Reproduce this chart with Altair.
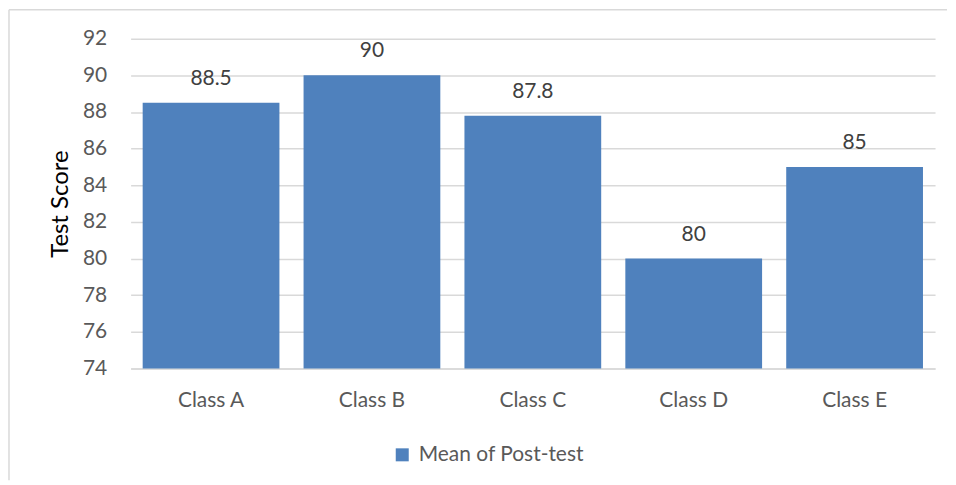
import altair as alt
import pandas as pd

classes = ["Class A", "Class B", "Class C", "Class D", "Class E"]
scores = [88.5, 90, 87.8, 80, 85]
series = ["Mean of Post-test"] * 5
y_ticks = [74, 76, 78, 80, 82, 84, 86, 88, 90, 92]

df = pd.DataFrame({"Class": classes, "Score": scores, "Series": series})
one = pd.DataFrame({"k": [0]})

FONT = "Lato"

x_enc = alt.X("Class:N", sort=classes, title=None,
              scale=alt.Scale(paddingInner=0.15, paddingOuter=0.075),
              axis=alt.Axis(labelAngle=0, labelFontSize=21, labelColor="#595959",
                            labelFont=FONT, ticks=False, tickSize=0, labelPadding=21,
                            domainColor="#d9d9d9", domainWidth=1.5))
y_axis = alt.Axis(values=y_ticks, labelFontSize=21,
                  labelColor="#595959", labelFont=FONT, ticks=False, tickSize=0,
                  labelPadding=24, labelOverlap=False, domain=False,
                  gridColor="#d9d9d9", gridWidth=1.5,
                  titleFontSize=24, titleFont=FONT,
                  titleColor="#000000", titleFontWeight="normal",
                  titlePadding=10)
y_enc = alt.Y("Score:Q", title="Test Score",
              scale=alt.Scale(domain=[74, 92], nice=False, zero=False),
              axis=y_axis)

base = alt.Chart(df)

bars = base.mark_bar(color="#4F81BD").encode(
    x=x_enc,
    y=y_enc,
    y2=alt.datum(74),
    color=alt.Color("Series:N", scale=alt.Scale(range=["#4F81BD"]),
                    legend=alt.Legend(title=None, orient="none", legendX=262,
                                      legendY=407, symbolType="square",
                                      symbolSize=170, symbolStrokeWidth=0,
                                      symbolFillColor="#4F81BD", symbolOpacity=1,
                                      labelFontSize=21, labelFont=FONT, labelLimit=0,
                                      labelOffset=6,
                                      labelColor="#595959", direction="horizontal")),
)

labels = base.mark_text(baseline="middle", dy=-24, fontSize=21, font=FONT,
                        color="#404040").encode(
    x=x_enc,
    y=y_enc,
    text=alt.Text("Score:Q"),
)

top_border = alt.Chart(one).mark_rule(color="#d9d9d9", strokeWidth=1.5).encode(
    x=alt.value(-122), x2=alt.value(819), y=alt.value(-29))
left_border = alt.Chart(one).mark_rule(color="#d9d9d9", strokeWidth=1.5).encode(
    x=alt.value(-122), y=alt.value(-29), y2=alt.value(443))

chart = alt.layer(top_border, left_border, bars, labels).properties(
    width=807, height=331, padding=0, background="white"
).configure_view(stroke=None)

chart.save("out.html", embed_options={"renderer": "svg", "actions": False})
